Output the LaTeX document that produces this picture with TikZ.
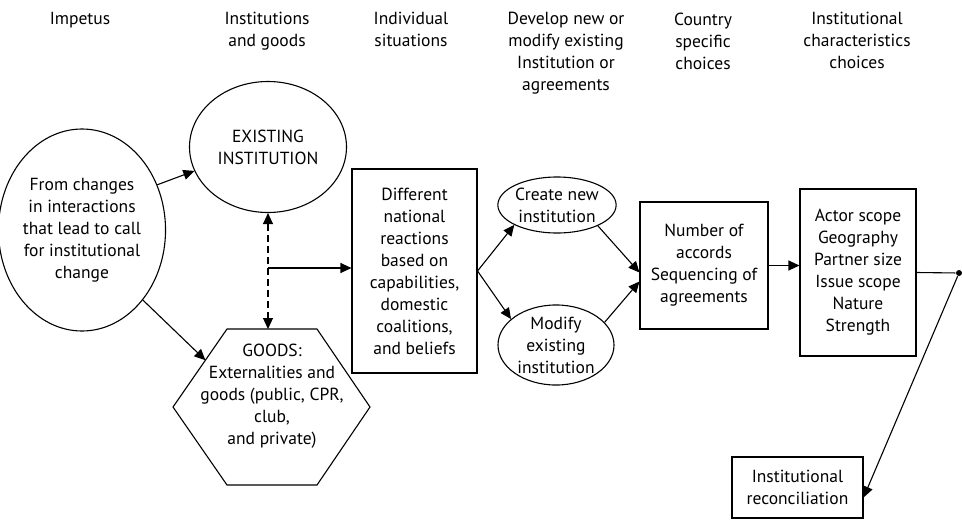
\documentclass[tikz,border=0pt]{standalone}
\usepackage{fontspec}
\setmainfont{PT Sans}
\usetikzlibrary{arrows.meta,shapes.geometric,calc}

\begin{document}
\begin{tikzpicture}[x=1pt, y=-1pt, line width=1.1pt,
        every node/.style={font=\fontsize{17.5pt}{22pt}\selectfont, align=center},
        colhead/.style={anchor=north, inner sep=0pt},
        oval/.style={draw, ellipse, inner sep=0pt},
        block/.style={draw, rectangle, inner sep=0pt},
        hub/.style={circle, fill, inner sep=0pt, minimum size=6pt},
        flowarrow/.style={-{Triangle[length=11pt, width=10pt]}},
        twoway/.style={{Triangle[length=11pt, width=10pt]}-{Triangle[length=11pt, width=10pt]}, dash pattern=on 7pt off 4pt}]
    \useasboundingbox (0,0) rectangle (962,520);

    \node[colhead] (hImpetus) at (80,12) {Impetus};
    \node[colhead] (hGoods) at (267,12) {Institutions\\and goods};
    \node[colhead] (hIndiv) at (411,12) {Individual\\situations};
    \node[colhead] (hDevelop) at (566,12) {Develop new or\\modify existing\\Institution or\\agreements};
    \node[colhead] (hCountry) at (703,12) {Country\\specific\\choices};
    \node[colhead] (hTraits) at (857,12) {Institutional\\characteristics\\choices};

    \node[oval, minimum width=150pt, minimum height=202pt] (impetus) at (82,230) {From changes\\in interactions\\that lead to call\\for institutional\\change};
    \node[oval, minimum width=157pt, minimum height=131pt] (existing) at (268,147) {EXISTING\\INSTITUTION};
    \node[block, minimum width=125pt, minimum height=204pt] (reactions) at (414.5,271) {Different\\national\\reactions\\based on\\capabilities,\\domestic\\coalitions,\\and beliefs};
    \node[oval, minimum width=104pt, minimum height=56pt] (create) at (557,205) {Create new\\institution};
    \node[oval, minimum width=116pt, minimum height=76pt] (modify) at (556,345) {Modify\\existing\\institution};
    \node[block, minimum width=128pt, minimum height=127pt] (accords) at (704,265.5) {Number of\\accords\\Sequencing of\\agreements};
    \node[block, minimum width=116pt, minimum height=167pt] (traits) at (858,272.5) {Actor scope\\Geography\\Partner size\\Issue scope\\Nature\\Strength};
    \node[block, minimum width=131pt, minimum height=61pt] (reconcile) at (797.5,487.5) {Institutional\\reconciliation};
    \node[hub] (joint) at (959,273) {};

    \coordinate (hexL) at (173,407);
    \coordinate (hexTL) at (227,329);
    \coordinate (hexTR) at (317,329);
    \coordinate (hexR) at (370,407);
    \coordinate (hexBR) at (317,485);
    \coordinate (hexBL) at (227,485);
    \draw (hexL) -- (hexTL) -- (hexTR) -- (hexR) -- (hexBR) -- (hexBL) -- cycle;
    \node (goods) at (272,396) {GOODS:\\Externalities and\\goods (public, CPR,\\club,\\and private)};
    \coordinate (goodsTop) at (268,329);
    \coordinate (junc) at (268,268);

    \draw[flowarrow] (impetus.31) -- (existing.198);
    \draw[flowarrow] (impetus.-49) -- ($(hexL)!0.6!(hexTL)$);
    \draw[twoway] (existing.south) -- (goodsTop);
    \draw[flowarrow] (junc) -- (junc -| reactions.west);
    \draw[flowarrow] (reactions.east) -- (create.205);
    \draw[flowarrow] (reactions.east) -- (modify.150);
    \draw[flowarrow] (create.-27) -- ([yshift=-7pt]accords.west);
    \draw[flowarrow] (modify.25) -- ([yshift=-16pt]accords.west);
    \draw[flowarrow] (accords.east) -- (accords.east -| traits.west);
    \draw (traits.east) -- (joint);
    \draw[flowarrow] (joint) -- ([yshift=-10pt]reconcile.east);
\end{tikzpicture}
\end{document}
